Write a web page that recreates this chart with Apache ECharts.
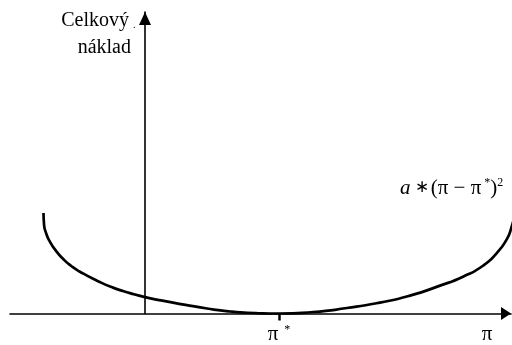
<!DOCTYPE html>
<html>
<head>
<meta charset="utf-8">
<script src="https://cdn.jsdelivr.net/npm/echarts@6/dist/echarts.min.js"></script>
<style>
  html, body { margin: 0; padding: 0; background: #fff; }
  #chart { width: 512px; height: 345px; }
</style>
</head>
<body>
<div id="chart"></div>
<script>
// Total cost curve: quantity π on the horizontal axis, cost on the vertical one.
// Units: origin where the axes cross; π* marks the minimum.
const piStar = 134;
const piLabelPos = 342;
const curveX = [-101.5, -101, -99, -95, -89, -82, -74, -65, -48, -32, -15, 0, 28, 62, 85, 110, 134, 168, 202, 235, 265, 295, 318, 338, 352, 362, 366, 370];
const curveY = [101, 90, 81, 72, 63, 55, 48, 42, 33, 26, 20.5, 16.5, 11, 5, 2, 0.5, 0, 1.5, 5.5, 11, 18, 28, 37, 48, 61, 75, 85, 100];

const curve = curveX.map((x, i) => [x, curveY[i]]);

const FONT = '"Liberation Serif", "Times New Roman", serif';

const chart = echarts.init(document.getElementById('chart'));
chart.setOption({
  animation: false,
  backgroundColor: '#fff',
  grid: { left: 10, right: 1, top: 12, bottom: 30 },
  xAxis: {
    type: 'value',
    min: -135,
    max: 366,
    splitLine: { show: false },
    axisLine: {
      onZero: true,
      symbol: ['none', 'triangle'],
      symbolSize: [13, 10],
      symbolOffset: [0, -5],
      lineStyle: { color: '#000', width: 1.6 }
    },
    axisTick: {
      show: true,
      customValues: [piStar],
      length: 7,
      lineStyle: { color: '#000', width: 2.5 }
    },
    axisLabel: {
      show: true,
      customValues: [piStar, piLabelPos],
      margin: 10,
      fontFamily: FONT,
      fontSize: 20,
      color: '#000',
      formatter: v => v === piStar ? '{p|π}{s|  *}' : '{p|π}',
      rich: {
        p: { fontFamily: FONT, fontSize: 21, color: '#000' },
        s: { fontFamily: FONT, fontSize: 12, color: '#000', verticalAlign: 'top', padding: [0, 0, 10, 0] }
      }
    }
  },
  yAxis: {
    type: 'value',
    min: 0,
    max: 303,
    splitLine: { show: false },
    axisLine: {
      onZero: true,
      symbol: ['none', 'triangle'],
      symbolSize: [12, 13],
      symbolOffset: [0, -6.5],
      lineStyle: { color: '#000', width: 1.6 }
    },
    axisTick: { show: false },
    axisLabel: { show: false }
  },
  series: [{
    type: 'line',
    data: curve,
    smooth: 0.6,
    symbol: 'none',
    clip: false,
    lineStyle: { color: '#000', width: 2.7 }
  }],
  graphic: [
    {
      type: 'text', x: 129, y: 21, z: 10,
      style: { text: 'Celkový', fontFamily: FONT, fontSize: 20, fill: '#000', align: 'right', verticalAlign: 'middle' }
    },
    {
      type: 'text', x: 131, y: 48, z: 10,
      style: { text: 'náklad', fontFamily: FONT, fontSize: 20, fill: '#000', align: 'right', verticalAlign: 'middle' }
    },
    {
      type: 'text', x: 133, y: 25, z: 10,
      style: { text: '.', fontFamily: FONT, fontSize: 10, fill: '#000', verticalAlign: 'middle' }
    },
    {
      type: 'text', x: 400, y: 188, z: 10,
      style: {
        text: '{a|a}{m| ∗}{n|(π − π}{s| *}{n|)}{s|2}',
        verticalAlign: 'middle',
        rich: {
          a: { fontFamily: FONT, fontStyle: 'italic', fontSize: 21, fill: '#000' },
          m: { fontFamily: FONT, fontSize: 17, fill: '#000', padding: [0, 2, 0, 0] },
          n: { fontFamily: FONT, fontSize: 21, fill: '#000' },
          s: { fontFamily: FONT, fontSize: 12, fill: '#000', verticalAlign: 'top', padding: [0, 0, 10, 0] }
        }
      }
    }
  ]
});
</script>
</body>
</html>
